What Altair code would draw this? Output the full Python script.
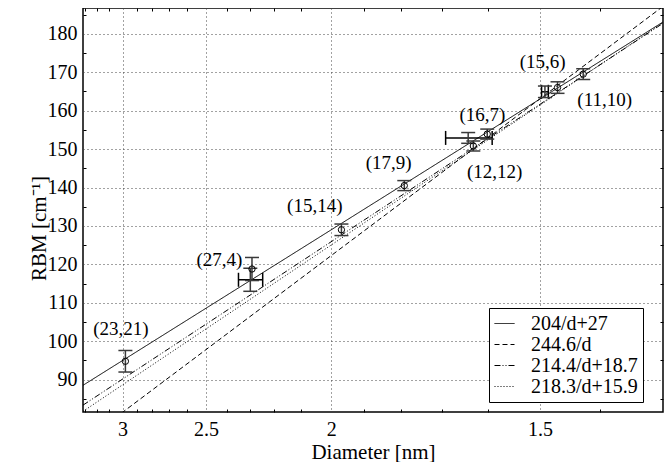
import altair as alt
import pandas as pd

# ---------------- data ----------------
circ_labels = ["(23,21)", "(27,4)", "(15,14)", "(17,9)", "(12,12)", "(16,7)", "(15,6)", "(11,10)"]
circ_d = [2.98, 2.29, 1.968, 1.791, 1.630, 1.601, 1.469, 1.426]
circ_rbm = [94.8, 118.8, 129.0, 140.5, 150.8, 153.9, 166.0, 169.5]
circ_err = [2.8, 3.0, 1.5, 1.3, 1.3, 1.3, 1.5, 1.4]

label_d = [3.012, 2.435, 2.054, 1.832, 1.586, 1.611, 1.495, 1.392]
label_rbm = [103.3, 121.2, 135.2, 146.5, 144.1, 158.9, 172.7, 162.8]

cross_d = [2.297, 1.641, 1.491]
cross_derr = [0.051, 0.05, 0.006]
cross_rbm = [116.0, 152.9, 164.9]
cross_err = [3.0, 1.4, 1.5]

fit_names = ["204/d+27", "244.6/d", "214.4/d+18.7", "218.3/d+15.9"]
fit_a = [204, 244.6, 214.4, 218.3]
fit_b = [27, 0, 18.7, 15.9]
fit_dash = [[1, 0], [5, 3], [6, 2, 1, 2, 1, 2], [1, 2]]

major_d = [3, 2.5, 2, 1.5]
minor_d = [3.3, 3.2, 3.1, 2.9, 2.8, 2.7, 2.6, 2.4, 2.3, 2.2, 2.1, 1.9, 1.8, 1.7, 1.6, 1.4]
major_rbm = [90, 100, 110, 120, 130, 140, 150, 160, 170, 180]
minor_rbm = [85, 95, 105, 115, 125, 135, 145, 155, 165, 175, 185]

x_domain = [0.3017, 0.765]   # 1/d
y_domain = [81.6, 186.7]

# ---------------- tables ----------------
lines_df = pd.DataFrame(
    [{"name": n, "u": u, "rbm": a * u + b}
     for n, a, b in zip(fit_names, fit_a, fit_b) for u in x_domain]
)
circ_df = pd.DataFrame({
    "label": circ_labels,
    "u": [1 / d for d in circ_d],
    "rbm": circ_rbm,
    "lo": [r - e for r, e in zip(circ_rbm, circ_err)],
    "hi": [r + e for r, e in zip(circ_rbm, circ_err)],
    "lu": [1 / d for d in label_d],
    "lr": label_rbm,
})
cross_df = pd.DataFrame({
    "u": [1 / d for d in cross_d],
    "ulo": [1 / (d + e) for d, e in zip(cross_d, cross_derr)],
    "uhi": [1 / (d - e) for d, e in zip(cross_d, cross_derr)],
    "rbm": cross_rbm,
    "lo": [r - e for r, e in zip(cross_rbm, cross_err)],
    "hi": [r + e for r, e in zip(cross_rbm, cross_err)],
})

FONT = "Liberation Serif"
xs = alt.Scale(domain=x_domain, nice=False, zero=False)
ys = alt.Scale(domain=y_domain, nice=False, zero=False)

x_main = alt.Axis(
    orient="bottom", values=[1 / d for d in major_d],
    labelExpr="format(1/datum.value, '.2~f')",
    title="Diameter [nm]", grid=True, ticks=False, domain=False,
    labelPadding=7, titlePadding=2,
)
y_main = alt.Axis(
    orient="left", values=major_rbm, title="RBM [cm⁻¹]", grid=True,
    ticks=False, domain=False, labelPadding=6,
    titleAngle=270, titleAlign="center", titleBaseline="middle",
    titleX=-44, titleY=220,
)

lines = alt.Chart(lines_df).mark_line(clip=True, color="black", strokeWidth=1).encode(
    x=alt.X("u:Q", scale=xs, axis=x_main),
    y=alt.Y("rbm:Q", scale=ys, axis=y_main),
    strokeDash=alt.StrokeDash(
        "name:N",
        scale=alt.Scale(domain=fit_names, range=fit_dash),
        legend=alt.Legend(title=None, orient="none", legendX=406, legendY=300),
    ),
    detail="name:N",
)

def ax_none_x(field="u:Q"):
    return alt.X(field, scale=xs, axis=None)

def ax_none_y(field):
    return alt.Y(field, scale=ys, axis=None)

EB = "#3a3a3a"
circ_bar = alt.Chart(circ_df).mark_rule(color=EB, strokeWidth=1.5).encode(
    x=ax_none_x(), y=ax_none_y("lo:Q"), y2="hi:Q")
circ_cap_lo = alt.Chart(circ_df).mark_point(shape="stroke", size=196, filled=False, color=EB, strokeWidth=1.5, opacity=1).encode(
    x=ax_none_x(), y=ax_none_y("lo:Q"))
circ_cap_hi = alt.Chart(circ_df).mark_point(shape="stroke", size=196, filled=False, color=EB, strokeWidth=1.5, opacity=1).encode(
    x=ax_none_x(), y=ax_none_y("hi:Q"))
circles = alt.Chart(circ_df).mark_point(shape="circle", size=40, filled=False, color="black", strokeWidth=1, opacity=1).encode(
    x=ax_none_x(), y=ax_none_y("rbm:Q"))
labels = alt.Chart(circ_df).mark_text(font=FONT, fontSize=19, color="black", align="center", baseline="middle").encode(
    x=ax_none_x("lu:Q"), y=ax_none_y("lr:Q"), text="label:N")

cross_h = alt.Chart(cross_df).mark_rule(color="black", strokeWidth=1.5).encode(
    x=ax_none_x("ulo:Q"), x2="uhi:Q", y=ax_none_y("rbm:Q"))
cross_hl = alt.Chart(cross_df).mark_point(shape="M0,-1L0,1", size=196, filled=False, color="black", strokeWidth=1.5, opacity=1).encode(
    x=ax_none_x("ulo:Q"), y=ax_none_y("rbm:Q"))
cross_hh = alt.Chart(cross_df).mark_point(shape="M0,-1L0,1", size=196, filled=False, color="black", strokeWidth=1.5, opacity=1).encode(
    x=ax_none_x("uhi:Q"), y=ax_none_y("rbm:Q"))
cross_v = alt.Chart(cross_df).mark_rule(color=EB, strokeWidth=1.5).encode(
    x=ax_none_x(), y=ax_none_y("lo:Q"), y2="hi:Q")
cross_vl = alt.Chart(cross_df).mark_point(shape="stroke", size=196, filled=False, color=EB, strokeWidth=1.5, opacity=1).encode(
    x=ax_none_x(), y=ax_none_y("lo:Q"))
cross_vh = alt.Chart(cross_df).mark_point(shape="stroke", size=196, filled=False, color=EB, strokeWidth=1.5, opacity=1).encode(
    x=ax_none_x(), y=ax_none_y("hi:Q"))

def tick_layer(xaxis, yaxis):
    return alt.Chart(lines_df).mark_point(opacity=0, clip=True).encode(
        x=alt.X("u:Q", scale=xs, axis=xaxis),
        y=alt.Y("rbm:Q", scale=ys, axis=yaxis),
    )

minor_u = [1 / d for d in minor_d]
tk = dict(offset=-3, tickSize=3, labels=False, domain=False, grid=False, title=None,
          ticks=True, tickColor="black", tickWidth=1)
t_bottom = tick_layer(alt.Axis(orient="bottom", values=minor_u, **tk), None)
t_top = tick_layer(alt.Axis(orient="top", values=minor_u, **tk), None)
t_left = tick_layer(None, alt.Axis(orient="left", values=minor_rbm, **tk))
t_right = tick_layer(None, alt.Axis(orient="right", values=minor_rbm, **tk))

chart = alt.layer(
    lines, cross_h, cross_hl, cross_hh, cross_v, cross_vl, cross_vh,
    circ_bar, circ_cap_lo, circ_cap_hi, circles, labels,
    t_bottom, t_top, t_left, t_right,
).resolve_axis(x="independent", y="independent").properties(
    width=580, height=404,
    autosize=alt.AutoSizeParams(type="none"),
    padding={"left": 75, "top": 0, "right": 1, "bottom": 60},
).configure(font=FONT).configure_view(
    stroke="black", strokeWidth=1.5,
).configure_axis(
    labelFont=FONT, titleFont=FONT, labelFontSize=20, titleFontSize=21,
    titleFontWeight="normal", labelColor="black", titleColor="black",
    gridColor="#444", gridDash=[1, 3], gridWidth=1, gridOpacity=1,
).configure_legend(
    labelFont=FONT, labelFontSize=20, labelColor="black",
    symbolType="stroke", symbolSize=400, symbolStrokeWidth=1,
    symbolStrokeColor="black", fillColor="white", strokeColor="black",
    padding=5, rowPadding=0, labelOffset=16,
)

chart.save("out.html", embed_options={"renderer": "svg", "actions": False})
